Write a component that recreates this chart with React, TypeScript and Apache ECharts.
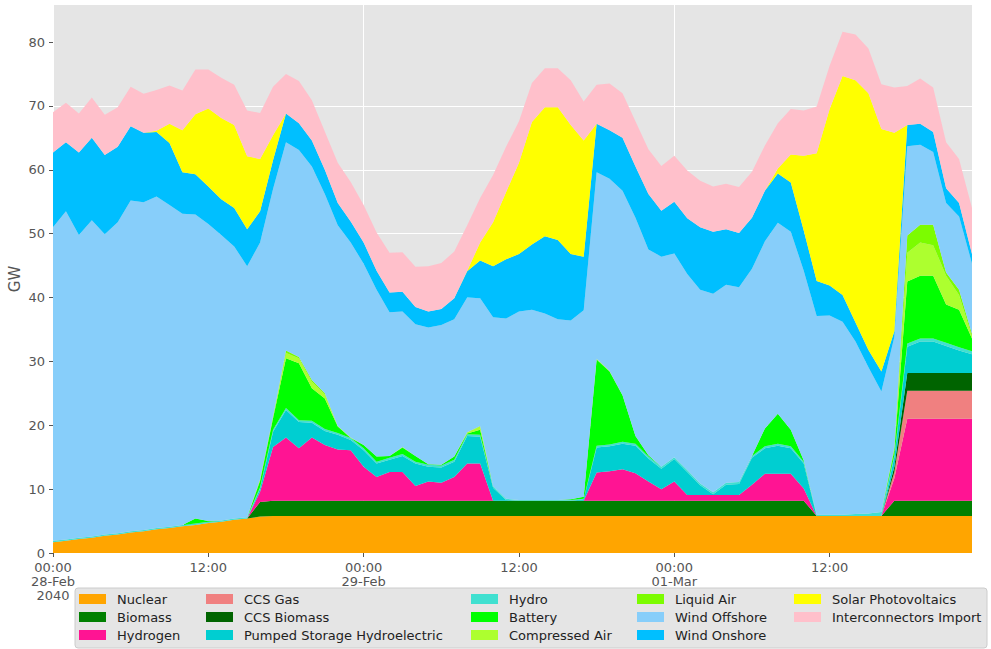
import React, { useEffect, useRef } from "react";
import * as echarts from "echarts";

// hourly categories, 28-Feb-2040 00:00 .. 01-Mar-2040 23:00
const dayNames = ["28-Feb", "29-Feb", "01-Mar"];
const hours: string[] = [];
for (let d = 0; d < dayNames.length; d++) {
  for (let h = 0; h < 24; h++) hours.push(`${dayNames[d]} ${String(h).padStart(2, "0")}:00`);
}

const tickIndices = [0, 12, 24, 36, 48, 60];
const tickLabels = ["00:00\n28-Feb\n2040", "12:00", "00:00\n29-Feb", "12:00", "00:00\n01-Mar", "12:00"];
const yTicks = [0, 10, 20, 30, 40, 50, 60, 70, 80];

const nuclear = [1.7, 1.9, 2.2, 2.4, 2.7, 2.9, 3.2, 3.4, 3.7, 3.9, 4.2, 4.4, 4.7, 4.9, 5.2, 5.4, 5.7, 5.8,
  5.8, 5.8, 5.8, 5.8, 5.8, 5.8, 5.8, 5.8, 5.8, 5.8, 5.8, 5.8, 5.8, 5.8, 5.8, 5.8, 5.8, 5.8,
  5.8, 5.8, 5.8, 5.8, 5.8, 5.8, 5.8, 5.8, 5.8, 5.8, 5.8, 5.8, 5.8, 5.8, 5.8, 5.8, 5.8, 5.8,
  5.8, 5.8, 5.8, 5.8, 5.8, 5.8, 5.8, 5.8, 5.8, 5.8, 5.8, 5.8, 5.8, 5.8, 5.8, 5.8, 5.8, 5.8];
const biomass = [0, 0, 0, 0, 0, 0, 0, 0, 0, 0, 0, 0, 0, 0, 0, 0, 2.3, 2.4,
  2.4, 2.4, 2.4, 2.4, 2.4, 2.4, 2.4, 2.4, 2.4, 2.4, 2.4, 2.4, 2.4, 2.4, 2.4, 2.4, 2.4, 2.4,
  2.4, 2.4, 2.4, 2.4, 2.4, 2.4, 2.4, 2.4, 2.4, 2.4, 2.4, 2.4, 2.4, 2.4, 2.4, 2.4, 2.4, 2.4,
  2.4, 2.4, 2.4, 2.4, 2.4, 0, 0, 0, 0, 0, 0, 2.4, 2.4, 2.4, 2.4, 2.4, 2.4, 2.4];
const hydrogen = [0, 0, 0, 0, 0, 0, 0, 0, 0, 0, 0, 0, 0, 0, 0, 0, 1.6, 8.4,
  9.9, 8.2, 9.9, 8.7, 8.0, 7.9, 5.3, 3.7, 4.5, 4.5, 2.3, 3.0, 2.8, 3.7, 5.8, 5.8, 0, 0,
  0, 0, 0, 0, 0, 0, 4.4, 4.6, 4.9, 4.3, 3.0, 1.8, 3.0, 0.9, 0.9, 0.9, 0.9, 0.9,
  2.5, 4.2, 4.2, 4.2, 1.9, 0, 0, 0, 0, 0, 0, 3.5, 12.8, 12.8, 12.8, 12.8, 12.8, 12.8];
const ccsGas = [0, 0, 0, 0, 0, 0, 0, 0, 0, 0, 0, 0, 0, 0, 0, 0, 0, 0,
  0, 0, 0, 0, 0, 0, 0, 0, 0, 0, 0, 0, 0, 0, 0, 0, 0, 0,
  0, 0, 0, 0, 0, 0, 0, 0, 0, 0, 0, 0, 0, 0, 0, 0, 0, 0,
  0, 0, 0, 0, 0, 0, 0, 0, 0, 0, 0, 1.0, 4.4, 4.4, 4.4, 4.4, 4.4, 4.4];
const ccsBiomass = [0, 0, 0, 0, 0, 0, 0, 0, 0, 0, 0, 0, 0, 0, 0, 0, 0, 0,
  0, 0, 0, 0, 0, 0, 0, 0, 0, 0, 0, 0, 0, 0, 0, 0, 0, 0,
  0, 0, 0, 0, 0, 0, 0, 0, 0, 0, 0, 0, 0, 0, 0, 0, 0, 0,
  0, 0, 0, 0, 0, 0, 0, 0, 0, 0, 0, 0.8, 2.8, 2.8, 2.8, 2.8, 2.8, 2.8];
const pumpedStorage = [0, 0, 0, 0, 0, 0, 0, 0, 0, 0, 0, 0, 0, 0, 0, 0, 0.5, 2.4,
  4.3, 4.1, 2.3, 2.2, 2.3, 1.6, 2.6, 2.1, 1.9, 2.5, 3.5, 2.3, 2.4, 2.4, 4.3, 4.2, 2.0, 0.1,
  0, 0, 0, 0, 0, 0.2, 3.9, 3.9, 4.0, 4.3, 3.6, 3.2, 3.5, 3.6, 1.5, 0.1, 1.6, 1.7,
  4.2, 4.0, 4.4, 4.0, 3.9, 0, 0, 0, 0, 0, 0, 1.5, 4.1, 4.9, 4.9, 4.2, 3.5, 2.9];
const hydro = [0.2, 0.2, 0.2, 0.2, 0.2, 0.2, 0.2, 0.2, 0.2, 0.2, 0.2, 0.2, 0.2, 0.2, 0.2, 0.2, 0.2, 0.3,
  0.3, 0.3, 0.3, 0.3, 0.3, 0.3, 0.3, 0.3, 0.3, 0.3, 0.3, 0.3, 0.3, 0.3, 0.3, 0.3, 0.3, 0.2,
  0.1, 0.1, 0.1, 0.1, 0.1, 0.1, 0.3, 0.3, 0.3, 0.3, 0.3, 0.3, 0.3, 0.3, 0.3, 0.3, 0.3, 0.3,
  0.3, 0.3, 0.3, 0.3, 0.3, 0.2, 0.2, 0.2, 0.3, 0.4, 0.6, 0.3, 0.5, 0.5, 0.5, 0.5, 0.5, 0.5];
const battery = [0, 0, 0, 0, 0, 0, 0, 0, 0, 0, 0, 0.8, 0.1, 0, 0, 0, 1.0, 1.8,
  7.8, 8.9, 5.1, 4.8, 1.0, 0, 0.5, 0.8, 0.3, 1.0, 0.9, 0.1, 0.1, 0.5, 0.1, 0.8, 0, 0,
  0, 0, 0, 0, 0.1, 0.3, 13.5, 11.4, 7.3, 1.2, 0.2, 0, 0, 0, 0, 0, 0, 0,
  0, 2.8, 4.7, 2.6, 0.2, 0, 0, 0, 0, 0, 0, 0.8, 9.7, 9.8, 9.8, 6.0, 5.9, 2.0];
const compressedAir = [0, 0, 0, 0, 0, 0, 0, 0, 0, 0, 0, 0, 0, 0, 0, 0, 0.2, 0.2,
  0.8, 0.8, 1.0, 0.6, 0.1, 0.1, 0, 0, 0, 0.1, 0, 0, 0, 0, 0.2, 0.5, 0, 0,
  0, 0, 0, 0, 0, 0, 0.1, 0.1, 0, 0, 0, 0, 0, 0, 0, 0, 0, 0,
  0, 0, 0, 0, 0, 0, 0, 0, 0, 0, 0, 0.2, 4.5, 5.2, 4.8, 4.5, 2.3, 0.3];
const liquidAir = [0, 0, 0, 0, 0, 0, 0, 0, 0, 0, 0, 0, 0, 0, 0, 0, 0.1, 0.1,
  0.4, 0.2, 0.3, 0.2, 0, 0, 0, 0, 0, 0, 0, 0, 0, 0, 0, 0.1, 0, 0,
  0, 0, 0, 0, 0, 0, 0, 0, 0, 0, 0, 0, 0, 0, 0, 0, 0, 0,
  0, 0, 0, 0, 0, 0, 0, 0, 0, 0, 0, 0.2, 2.7, 2.8, 3.2, 0.5, 0.8, 0.4];
const windOffshore = [49.1, 51.4, 47.4, 49.5, 47.0, 48.7, 51.8, 51.3, 51.9, 50.4,
  48.7, 47.6, 46.5, 44.7, 42.6, 39.3, 37.0, 35.6, 32.6, 32.4,
  33.4, 31.2, 31.4, 30.5, 28.4, 26.1, 22.5, 21.2, 20.6, 21.4,
  21.9, 21.5, 21.1, 20.0, 26.4, 28.2, 29.5, 29.8, 29.2, 28.3,
  28.0, 29.2, 29.2, 30.1, 32.0, 34.2, 32.2, 32.9, 31.9, 30.7,
  30.3, 31.1, 31.0, 30.5, 29.3, 29.3, 29.9, 31.0, 29.7, 31.1,
  31.2, 30.2, 27.0, 22.9, 18.9, 17.3, 14.0, 12.5, 11.4, 10.9, 11.5, 11.0];
const windOnshore = [11.7, 10.8, 12.9, 12.9, 12.4, 11.8, 11.6, 10.9, 10.1, 9.7,
  6.5, 6.3, 5.9, 5.6, 6.0, 5.8, 4.9, 4.5, 4.5, 4.2,
  4.1, 3.8, 3.5, 3.3, 3.3, 3.0, 3.1, 3.1, 2.7, 2.5,
  2.5, 3.3, 4.1, 5.9, 8.0, 9.3, 9.0, 10.2, 12.1, 12.4,
  10.4, 8.4, 7.6, 7.6, 8.3, 8.0, 8.7, 7.2, 8.1, 8.7,
  9.8, 9.7, 8.7, 8.5, 8.0, 7.9, 7.7, 7.7, 6.3, 5.5,
  4.7, 4.2, 3.0, 2.7, 3.1, 0.9, 3.3, 3.3, 3.1, 2.3, 2.1, 1.5];
const solar = [0, 0, 0, 0, 0, 0, 0, 0, 0.2, 3.0,
  6.6, 9.4, 12.2, 12.7, 13.0, 11.4, 8.2, 3.9, 0, 0,
  0, 0, 0, 0, 0, 0, 0, 0, 0, 0,
  0, 0, 0.1, 2.8, 6.9, 10.5, 14.3, 19.2, 20.2, 20.8,
  20.2, 18.2, 0, 0, 0, 0, 0, 0, 0, 0,
  0, 0, 0, 0, 0, 0, 0.8, 4.4, 11.7, 20.0,
  27.6, 34.3, 37.9, 40.2, 38.0, 31.1, 0, 0, 0, 0, 0, 0];
const interconnectors = [6.3, 6.2, 6.1, 6.3, 6.3, 6.2, 6.2, 6.1, 6.4, 6.0,
  6.2, 7.0, 6.1, 6.3, 6.3, 7.2, 7.2, 7.6, 6.2, 6.6,
  6.3, 6.0, 6.3, 6.2, 5.9, 6.0, 6.2, 6.2, 6.3, 7.1,
  7.2, 7.3, 7.1, 7.0, 7.4, 7.1, 6.5, 6.1, 6.1, 6.1,
  7.0, 6.1, 6.1, 7.3, 7.0, 7.1, 7.0, 7.0, 7.2, 7.5,
  7.3, 7.1, 7.1, 7.2, 7.2, 7.1, 7.1, 7.1, 7.1, 7.3,
  6.8, 6.9, 7.2, 7.0, 7.0, 7.1, 6.1, 7.1, 7.0, 7.2, 6.9, 7.2];

const seriesNames = ["Nuclear", "Biomass", "Hydrogen", "CCS Gas", "CCS Biomass", "Pumped Storage Hydroelectric",
  "Hydro", "Battery", "Compressed Air", "Liquid Air", "Wind Offshore", "Wind Onshore", "Solar Photovoltaics",
  "Interconnectors Import"];
const seriesValues = [nuclear, biomass, hydrogen, ccsGas, ccsBiomass, pumpedStorage, hydro, battery,
  compressedAir, liquidAir, windOffshore, windOnshore, solar, interconnectors];
const seriesColors = ["#FFA500", "#008000", "#FF1493", "#F08080", "#006400", "#00CED1", "#40E0D0", "#00FF00",
  "#ADFF2F", "#7CFC00", "#87CEFA", "#00BFFF", "#FFFF00", "#FFC0CB"];

const legendColumns = [
  ["Nuclear", "Biomass", "Hydrogen"],
  ["CCS Gas", "CCS Biomass", "Pumped Storage Hydroelectric"],
  ["Hydro", "Battery", "Compressed Air"],
  ["Liquid Air", "Wind Offshore", "Wind Onshore"],
  ["Solar Photovoltaics", "Interconnectors Import"],
];
const legendLefts = [79, 206, 471, 637, 794];

const FONT = "DejaVu Sans";

export default function App() {
  const ref = useRef<HTMLDivElement>(null);
  useEffect(() => {
    if (!ref.current) return;
    const chart = echarts.init(ref.current, undefined, { renderer: "svg" });
    const option: any = {
      animation: false,
      textStyle: { fontFamily: FONT },
      grid: {
        left: 53, right: 19, top: 5, bottom: 96, show: true, backgroundColor: "#E5E5E5", borderWidth: 0,
        outerBoundsMode: "none", containLabel: false,
      },
      xAxis: {
        type: "category",
        data: hours,
        boundaryGap: false,
        axisLine: { show: false },
        axisTick: { show: true, interval: (i: number) => i % 12 === 0, length: 4, lineStyle: { color: "#555555" } },
        axisLabel: {
          interval: (i: number) => i % 12 === 0,
          formatter: (_v: string, i: number) => {
            const k = tickIndices.indexOf(i);
            return k >= 0 ? tickLabels[k] : "";
          },
          color: "#555555",
          fontSize: 13,
          lineHeight: 14,
          margin: 7,
          fontFamily: FONT,
          hideOverlap: false,
        },
        splitLine: { show: true, interval: (i: number) => i % 24 === 0, lineStyle: { color: "#FFFFFF", width: 1 } },
      },
      yAxis: {
        type: "value",
        min: 0,
        max: 85.8,
        interval: 10,
        name: "GW",
        nameLocation: "middle",
        nameGap: 31,
        nameMoveOverlap: false,
        nameTextStyle: { fontSize: 15, color: "#555555", fontFamily: FONT },
        axisLine: { show: false },
        axisTick: { show: true, length: 4, lineStyle: { color: "#555555" }, customValues: yTicks },
        axisLabel: { color: "#555555", fontSize: 13, lineHeight: 12, margin: 8, customValues: yTicks, fontFamily: FONT },
        splitLine: { show: true, showMaxLine: false, lineStyle: { color: "#FFFFFF", width: 1 } },
      },
      legend: legendColumns.map((names, c) => ({
        orient: "vertical",
        left: legendLefts[c],
        top: 592,
        padding: 0,
        itemGap: 4,
        itemWidth: 27,
        itemHeight: 10,
        icon: "rect",
        selectedMode: false,
        data: names,
        z: 5,
        textStyle: { fontSize: 13, color: "#222222", lineHeight: 14, fontFamily: FONT, padding: [0, 0, 0, 6] },
      })),
      graphic: [
        {
          type: "rect",
          z: 0,
          shape: { x: 75, y: 588, width: 912, height: 60, r: 3 },
          style: { fill: "#E5E5E5", stroke: "#CCCCCC", lineWidth: 1 },
        },
      ],
      series: seriesNames.map((name, i) => ({
        name,
        type: "line",
        stack: "total",
        data: seriesValues[i],
        symbol: "none",
        showSymbol: false,
        color: seriesColors[i],
        lineStyle: { width: 0 },
        areaStyle: { color: seriesColors[i], opacity: 1 },
        emphasis: { disabled: true },
      })),
    };
    chart.setOption(option);
    return () => chart.dispose();
  }, []);
  return <div ref={ref} style={{ position: "absolute", left: 0, top: 0, width: 991, height: 649 }} />;
}
